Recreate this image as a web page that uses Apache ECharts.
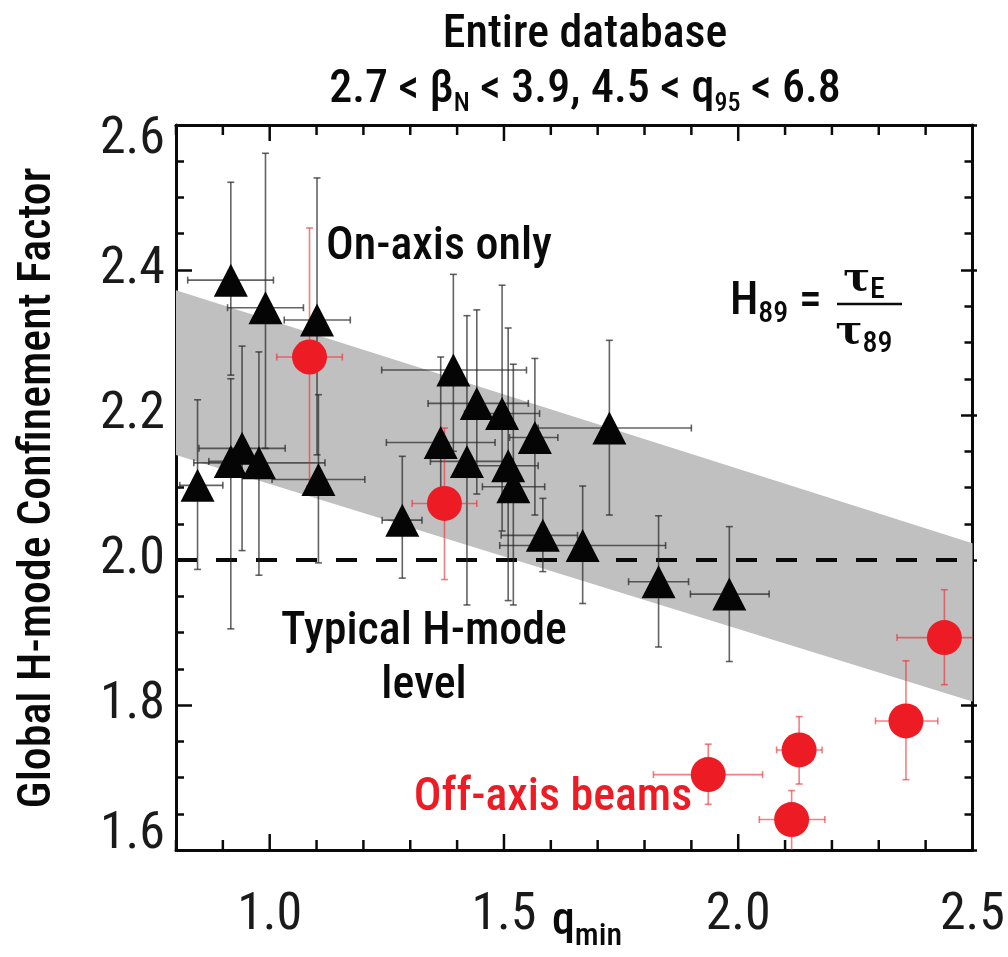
<!DOCTYPE html>
<html>
<head>
<meta charset="utf-8">
<script src="https://cdn.jsdelivr.net/npm/echarts@6/dist/echarts.min.js"></script>
<style>
  html, body { margin: 0; padding: 0; background: #ffffff; }
  #chart { width: 1008px; height: 957px; }
</style>
</head>
<body>
<div id="chart"></div>
<script>
// On-axis (triangles): q_min, H89 and their error ranges
const onQ    = [0.846, 0.917, 0.917, 0.941, 0.977, 0.991, 1.101, 1.104, 1.283, 1.365, 1.392, 1.421, 1.442, 1.496, 1.509, 1.520, 1.566, 1.583, 1.668, 1.725, 1.830, 1.981];
const onH    = [2.103, 2.386, 2.136, 2.154, 2.134, 2.348, 2.331, 2.111, 2.055, 2.162, 2.262, 2.136, 2.216, 2.202, 2.130, 2.101, 2.169, 2.034, 2.020, 2.182, 1.970, 1.953];
const onQLo  = [0.808, 0.825, 0.870, 0.849, 0.838, 0.910, 1.031, 1.005, 1.240, 1.249, 1.239, 1.343, 1.338, 1.416, 1.430, 1.454, 1.512, 1.494, 1.491, 1.573, 1.766, 1.898];
const onQHi  = [0.900, 1.008, 0.965, 1.033, 1.118, 1.072, 1.172, 1.203, 1.325, 1.481, 1.548, 1.520, 1.552, 1.576, 1.573, 1.587, 1.615, 1.657, 1.845, 1.900, 1.894, 2.066];
const onHLo  = [1.987, 2.255, 1.905, 2.013, 1.979, 2.154, 2.145, 1.996, 1.975, 2.070, 2.150, 1.938, 2.091, 2.040, 1.944, 1.938, 2.062, 1.984, 1.940, 2.062, 1.880, 1.860];
const onHHi  = [2.221, 2.521, 2.250, 2.295, 2.287, 2.561, 2.527, 2.228, 2.143, 2.280, 2.394, 2.337, 2.345, 2.379, 2.320, 2.270, 2.278, 2.085, 2.102, 2.303, 2.061, 2.046];

// Off-axis beams (red circles)
const offQ   = [1.085, 1.373, 1.936, 2.130, 2.114, 2.358, 2.440];
const offH   = [2.280, 2.078, 1.704, 1.738, 1.642, 1.778, 1.893];
const offQLo = [1.015, 1.304, 1.819, 2.082, 2.045, 2.293, 2.339];
const offQHi = [1.155, 1.442, 2.052, 2.179, 2.185, 2.426, 2.520];
const offHLo = [2.102, 1.973, 1.663, 1.691, 1.590, 1.697, 1.828];
const offHHi = [2.458, 2.182, 1.746, 1.784, 1.682, 1.861, 1.959];

// Shaded trend band: q_min at both ends, upper and lower edge values
const bandQ     = [0.8, 2.5];
const bandUpper = [2.372, 2.023];
const bandLower = [2.145, 1.805];

// Typical H-mode level
const typicalLevel = 2.0;

// Axis ranges, tick steps and labelled values
const xRange = [0.8, 2.5];
const yRange = [1.6, 2.6];
const xMinorStep = 0.1;
const yMinorStep = 0.05;
const xMajorTicks = [1.0, 1.5, 2.0, 2.5];
const yMajorTicks = [1.6, 1.8, 2.0, 2.2, 2.4, 2.6];
const xMinorTicks = [];
for (let v = xRange[0]; v <= xRange[1] + 1e-9; v += xMinorStep) xMinorTicks.push(+v.toFixed(3));

const NARROW = '"Roboto Condensed", "Liberation Sans Narrow", "DejaVu Sans Condensed", "Liberation Sans", sans-serif';
const INK = '#0a0a0a';
const TW = 500;

const chart = echarts.init(document.getElementById('chart'), null, { renderer: 'canvas' });

function errRows(q, h, qLo, qHi, hLo, hHi) {
  return q.map((v, i) => [v, h[i], qLo[i], qHi[i], hLo[i], hHi[i]]);
}

function errorBarRenderer(color) {
  return function (params, api) {
    const x = api.value(0), y = api.value(1);
    const xl = api.value(2), xh = api.value(3), yl = api.value(4), yh = api.value(5);
    const pL = api.coord([xl, y]), pR = api.coord([xh, y]);
    const pB = api.coord([x, yl]), pT = api.coord([x, yh]);
    const c = 3.5;
    const st = { stroke: color, lineWidth: 1.6 };
    const seg = (x1, y1, x2, y2) => ({ type: 'line', shape: { x1, y1, x2, y2 }, style: st });
    return {
      type: 'group',
      children: [
        seg(pL[0], pL[1], pR[0], pR[1]),
        seg(pL[0], pL[1] - c, pL[0], pL[1] + c),
        seg(pR[0], pR[1] - c, pR[0], pR[1] + c),
        seg(pB[0], pB[1], pT[0], pT[1]),
        seg(pB[0] - c, pB[1], pB[0] + c, pB[1]),
        seg(pT[0] - c, pT[1], pT[0] + c, pT[1])
      ]
    };
  };
}

// Inward q_min ticks on the bottom and top frame edges
function xTickRenderer(params, api) {
  const v = api.value(0);
  const major = xMajorTicks.some(m => Math.abs(m - v) < 1e-6);
  const len = major ? 16 : 10;
  const px = api.coord([v, yRange[0]])[0];
  const top = params.coordSys.y;
  const bottom = top + params.coordSys.height;
  const st = { stroke: INK, lineWidth: 2.5 };
  return {
    type: 'group',
    children: [
      { type: 'line', shape: { x1: px, y1: bottom, x2: px, y2: bottom - len }, style: st },
      { type: 'line', shape: { x1: px, y1: top, x2: px, y2: top + len }, style: st }
    ]
  };
}

function xAxisDef(gridIndex, position, withLine) {
  return {
    type: 'value',
    gridIndex,
    position,
    min: xRange[0],
    max: xRange[1],
    splitLine: { show: false },
    axisLine: { show: withLine, onZero: false, lineStyle: { color: INK, width: 3 } },
    axisTick: { show: false },
    axisLabel: { show: false }
  };
}

// Frame y axis with short minor ticks counted from min by a fixed step
function yMinorAxis(position) {
  return {
    type: 'value',
    gridIndex: 0,
    position,
    min: yRange[0],
    max: yRange[1],
    interval: yMinorStep,
    splitLine: { show: false },
    axisLine: { show: true, onZero: false, lineStyle: { color: INK, width: 3 } },
    axisTick: { show: true, inside: true, length: 8, lineStyle: { color: INK, width: 2.5 } },
    axisLabel: { show: false }
  };
}

// Overlay y axis carrying only the longer major ticks
function yMajorAxis(position) {
  return {
    type: 'value',
    gridIndex: 1,
    position,
    min: yRange[0],
    max: yRange[1],
    splitLine: { show: false },
    axisLine: { show: false, onZero: false },
    axisTick: { show: true, inside: true, length: 16, customValues: yMajorTicks, lineStyle: { color: INK, width: 2.5 } },
    axisLabel: { show: false }
  };
}

const xBottom = xAxisDef(0, 'bottom', true);
xBottom.axisLabel = {
  show: true,
  customValues: xMajorTicks,
  formatter: v => v.toFixed(1),
  margin: 40,
  fontFamily: NARROW,
  fontSize: 52,
  color: '#1a1a1a'
};

const yLeft = yMinorAxis('left');
yLeft.axisLabel = {
  show: true,
  customValues: yMajorTicks,
  formatter: v => {
    const s = v.toFixed(1);
    if (Math.abs(v - yRange[0]) < 1e-6) return '{lo|' + s + '}';
    if (Math.abs(v - yRange[1]) < 1e-6) return '{hi|' + s + '}';
    return s;
  },
  margin: 11,
  fontFamily: NARROW,
  fontSize: 52,
  color: '#1a1a1a',
  rich: {
    lo: { fontFamily: NARROW, fontSize: 52, color: '#1a1a1a', padding: [0, 0, 30, 0] },
    hi: { fontFamily: NARROW, fontSize: 52, color: '#1a1a1a', padding: [30, 0, 0, 0] }
  }
};

function label(text, x, y, color) {
  return {
    type: 'text', x, y, z: 10,
    style: { text, fontFamily: NARROW, fontWeight: TW, fontSize: 46, fill: color || INK, align: 'center', verticalAlign: 'middle' }
  };
}

const option = {
  animation: false,
  backgroundColor: '#ffffff',
  grid: [
    { left: 176, top: 125, width: 801, height: 725 },
    { left: 176, top: 125, width: 801, height: 725 }
  ],
  xAxis: [
    xBottom,
    xAxisDef(0, 'top', true),
    xAxisDef(1, 'bottom', false)
  ],
  yAxis: [
    yLeft,
    yMinorAxis('right'),
    yMajorAxis('left'),
    yMajorAxis('right')
  ],
  series: [
    {
      type: 'custom',
      name: 'band',
      xAxisIndex: 0, yAxisIndex: 0,
      z: 1,
      silent: true,
      data: [[bandQ[0], bandUpper[0]]],
      renderItem: function (params, api) {
        const pts = [
          api.coord([bandQ[0], bandUpper[0]]),
          api.coord([bandQ[1], bandUpper[1]]),
          api.coord([bandQ[1], bandLower[1]]),
          api.coord([bandQ[0], bandLower[0]])
        ];
        return { type: 'polygon', shape: { points: pts }, style: { fill: '#c0c0c0' } };
      }
    },
    {
      type: 'custom',
      name: 'q ticks',
      xAxisIndex: 0, yAxisIndex: 0,
      z: 8,
      silent: true,
      clip: false,
      data: xMinorTicks.map(v => [v, yRange[0]]),
      renderItem: xTickRenderer
    },
    {
      type: 'line',
      name: 'typical',
      xAxisIndex: 0, yAxisIndex: 0,
      z: 2,
      symbol: 'none',
      silent: true,
      data: [[xRange[0], typicalLevel], [xRange[1], typicalLevel]],
      lineStyle: { color: INK, width: 4, type: [21, 19] }
    },
    {
      type: 'custom',
      name: 'on-axis errors',
      xAxisIndex: 0, yAxisIndex: 0,
      z: 3,
      clip: true,
      data: errRows(onQ, onH, onQLo, onQHi, onHLo, onHHi),
      renderItem: errorBarRenderer('rgba(40,40,40,0.72)')
    },
    {
      type: 'custom',
      name: 'off-axis errors',
      xAxisIndex: 0, yAxisIndex: 0,
      z: 3,
      clip: true,
      data: errRows(offQ, offH, offQLo, offQHi, offHLo, offHHi),
      renderItem: errorBarRenderer('rgba(237,40,45,0.6)')
    },
    {
      type: 'scatter',
      name: 'On-axis only',
      xAxisIndex: 0, yAxisIndex: 0,
      z: 5,
      symbol: 'triangle',
      symbolSize: [34, 33],
      itemStyle: { color: '#050505', opacity: 1 },
      data: onQ.map((q, i) => [q, onH[i]])
    },
    {
      type: 'scatter',
      name: 'Off-axis beams',
      xAxisIndex: 0, yAxisIndex: 0,
      z: 6,
      symbol: 'circle',
      symbolSize: 35,
      itemStyle: { color: '#ed1c24', opacity: 1 },
      data: offQ.map((q, i) => [q, offH[i]])
    }
  ],
  graphic: [
    label('Entire database', 585, 35),
    {
      type: 'text', x: 585, y: 90, z: 10,
      style: {
        text: '2.7 < β{s|N} < 3.9, 4.5 < q{s|95} < 6.8',
        fontFamily: NARROW, fontWeight: TW, fontSize: 46, fill: INK, align: 'center', verticalAlign: 'middle',
        rich: { s: { fontFamily: NARROW, fontWeight: TW, fontSize: 26, fill: INK, padding: [28, 0, 0, 0] } }
      }
    },
    {
      type: 'text', x: 38, y: 488, rotation: Math.PI / 2, z: 10,
      style: { text: 'Global H-mode Confinement Factor', fontFamily: NARROW, fontWeight: TW, fontSize: 46, fill: INK, align: 'center', verticalAlign: 'middle' }
    },
    {
      type: 'text', x: 587, y: 922, z: 10,
      style: {
        text: 'q{s|min}',
        fontFamily: NARROW, fontWeight: TW, fontSize: 46, fill: INK, align: 'center', verticalAlign: 'middle',
        rich: { s: { fontFamily: NARROW, fontWeight: TW, fontSize: 32, fill: INK, padding: [30, 0, 0, 0] } }
      }
    },
    label('On-axis only', 439, 247),
    label('Typical H-mode', 424, 632),
    label('level', 424, 686),
    label('Off-axis beams', 553, 798, '#ed1c24'),
    {
      type: 'text', x: 730, y: 302, z: 10,
      style: {
        text: 'H{s|89} =',
        fontFamily: NARROW, fontWeight: TW, fontSize: 46, fill: INK, align: 'left', verticalAlign: 'middle',
        rich: { s: { fontFamily: NARROW, fontWeight: TW, fontSize: 30, fill: INK, padding: [24, 0, 0, 0] } }
      }
    },
    {
      type: 'line', z: 10,
      shape: { x1: 837, y1: 304, x2: 902, y2: 304 },
      style: { stroke: INK, lineWidth: 2.5 }
    },
    {
      type: 'text', x: 864, y: 280, z: 10,
      style: {
        text: '{t|τ}{s|E}',
        align: 'center', verticalAlign: 'middle',
        rich: {
          t: { fontFamily: '"DejaVu Serif", serif', fontWeight: 'bold', fontSize: 40, fill: INK },
          s: { fontFamily: NARROW, fontWeight: TW, fontSize: 30, fill: INK, padding: [20, 0, 0, 0] }
        }
      }
    },
    {
      type: 'text', x: 864, y: 333, z: 10,
      style: {
        text: '{t|τ}{s|89}',
        align: 'center', verticalAlign: 'middle',
        rich: {
          t: { fontFamily: '"DejaVu Serif", serif', fontWeight: 'bold', fontSize: 40, fill: INK },
          s: { fontFamily: NARROW, fontWeight: TW, fontSize: 30, fill: INK, padding: [22, 0, 0, 0] }
        }
      }
    }
  ]
};

chart.setOption(option);
</script>
</body>
</html>
